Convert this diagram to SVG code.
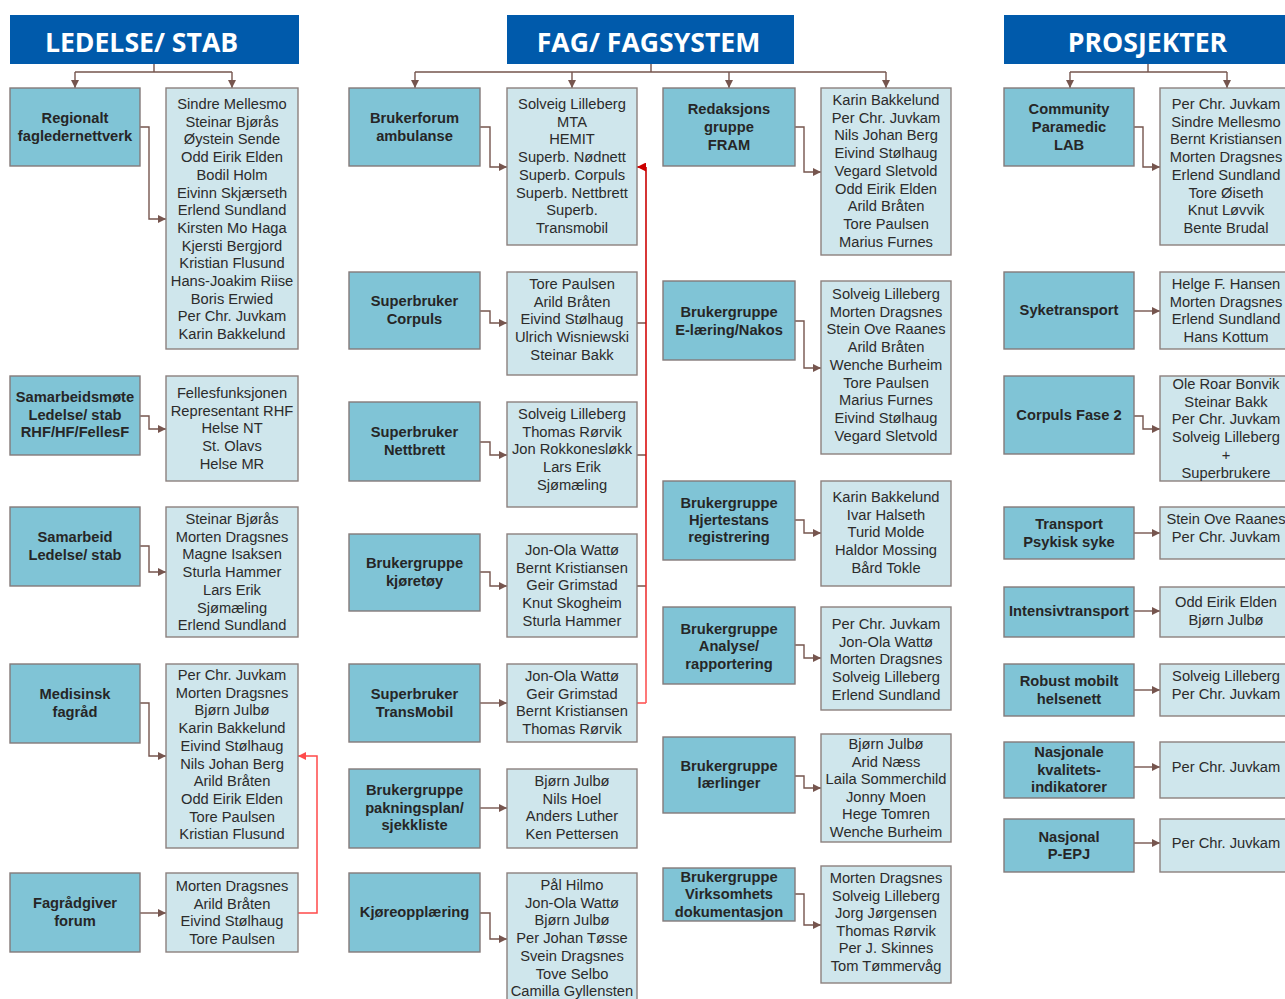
<svg xmlns="http://www.w3.org/2000/svg" width="1285" height="999" viewBox="0 0 1285 999">
<style>
.hdr{fill:#005aab}
.ht{font-family:"Open Sans","DejaVu Sans",sans-serif;font-weight:700;font-size:26.6px;fill:#fff;text-anchor:middle}
.dk{fill:#80c4d6;stroke:#847a79;stroke-width:1.4}
.lt{fill:#cfe6ec;stroke:#8c807e;stroke-width:1.4}
.lb{font-family:"Liberation Sans",Arial,sans-serif;font-weight:700;font-size:14.7px;fill:#262626;text-anchor:middle}
.nm{font-family:"Liberation Sans",Arial,sans-serif;font-size:14.7px;fill:#2b2b2b;text-anchor:middle}
.c{fill:none;stroke:#76554e;stroke-width:1.4}
.ca{fill:none;stroke:#76554e;stroke-width:1.4;marker-end:url(#ab)}
.r{fill:none;stroke:url(#rg);stroke-width:1.6}
.r2{fill:none;stroke:#ff4a4a;stroke-width:1.5}
</style>
<defs>
<marker id="ab" viewBox="0 0 8 8" refX="8" refY="4" markerWidth="8" markerHeight="8" markerUnits="userSpaceOnUse" orient="auto"><path d="M0,0 L8,4 L0,8 z" fill="#76554e"/></marker>
<marker id="ar" viewBox="0 0 8 8" refX="8" refY="4" markerWidth="9" markerHeight="9" markerUnits="userSpaceOnUse" orient="auto"><path d="M0,0 L8,4 L0,8 z" fill="#cc0000"/></marker>
<marker id="ar2" viewBox="0 0 8 8" refX="8" refY="4" markerWidth="8" markerHeight="8" markerUnits="userSpaceOnUse" orient="auto"><path d="M0,0 L8,4 L0,8 z" fill="#ff4a4a"/></marker>
<linearGradient id="rg" gradientUnits="userSpaceOnUse" x1="0" y1="167" x2="0" y2="703"><stop offset="0" stop-color="#c80000"/><stop offset="0.6" stop-color="#dd1010"/><stop offset="1" stop-color="#ff5a5a"/></linearGradient>
</defs>

<g id="headers">
<g id="h-ledelse"><rect class="hdr" x="10" y="15" width="289" height="49"/><text class="ht" x="141.5" y="52">LEDELSE/ STAB</text></g>
<g id="h-fag"><rect class="hdr" x="507" y="15" width="287" height="49"/><text class="ht" x="648.5" y="52">FAG/ FAGSYSTEM</text></g>
<g id="h-prosjekter"><rect class="hdr" x="1004" y="15" width="290" height="49"/><text class="ht" x="1147.5" y="52">PROSJEKTER</text></g>
</g>

<g id="connectors">
<path class="c" d="M154,64 V72 M75,72 H232"/>
<path class="ca" d="M75,72 V88"/><path class="ca" d="M232,72 V88"/>
<path class="c" d="M651,64 V72 M415,72 H886"/>
<path class="ca" d="M415,72 V88"/><path class="ca" d="M572,72 V88"/><path class="ca" d="M729,72 V88"/><path class="ca" d="M886,72 V88"/>
<path class="c" d="M1148,64 V72 M1070,72 H1227"/>
<path class="ca" d="M1070,72 V88"/><path class="ca" d="M1227,72 V88"/>

<path class="ca" d="M140,127 H149 V219 H166"/>
<path class="ca" d="M140,416 H149 V429 H166"/>
<path class="ca" d="M140,546 H149 V572 H166"/>
<path class="ca" d="M140,703 H149 V756 H166"/>
<path class="ca" d="M140,913 H166"/>
<path class="r2" d="M298,913 H317 V756 H298" marker-end="url(#ar2)"/>

<path class="ca" d="M480,127 H490 V167 H507"/>
<path class="ca" d="M480,311 H490 V323 H507"/>
<path class="ca" d="M480,442 H490 V455 H507"/>
<path class="ca" d="M480,572 H490 V586 H507"/>
<path class="ca" d="M480,703 H507"/>
<path class="ca" d="M480,808 H507"/>
<path class="ca" d="M480,913 H490 V939 H507"/>
<path class="c" d="M637,323 H646 M637,455 H646 M637,586 H646"/>
<path class="r2" d="M637,703 H646"/>
<path class="r" d="M646,703 V167"/>
<path fill="none" stroke="#c80000" stroke-width="1.6" d="M646,167 H637" marker-end="url(#ar)"/>

<path class="ca" d="M795,127 H804 V172 H821"/>
<path class="ca" d="M795,321 H804 V368 H821"/>
<path class="ca" d="M795,520 H804 V533 H821"/>
<path class="ca" d="M795,645 H804 V658 H821"/>
<path class="ca" d="M795,776 H804 V788 H821"/>
<path class="ca" d="M795,894 H804 V925 H821"/>

<path class="ca" d="M1134,127 H1143 V167 H1160"/>
<path class="ca" d="M1134,311 H1160"/>
<path class="ca" d="M1134,416 H1143 V429 H1160"/>
<path class="ca" d="M1134,533 H1160"/>
<path class="ca" d="M1134,611 H1160"/>
<path class="ca" d="M1134,690 H1160"/>
<path class="ca" d="M1134,767 H1160"/>
<path class="ca" d="M1134,843 H1160"/>
</g>

<!-- LEDELSE / STAB -->
<g id="n-regionalt"><rect class="dk" x="10" y="88" width="130" height="78"/><text class="lb" x="75" y="123">Regionalt</text><text class="lb" x="75" y="141">fagledernettverk</text></g>
<g id="m-regionalt"><rect class="lt" x="166" y="88" width="132" height="261"/><text class="nm" x="232" y="109"><tspan x="232">Sindre Mellesmo</tspan><tspan x="232" dy="17.7">Steinar Bjørås</tspan><tspan x="232" dy="17.7">Øystein Sende</tspan><tspan x="232" dy="17.7">Odd Eirik Elden</tspan><tspan x="232" dy="17.7">Bodil Holm</tspan><tspan x="232" dy="17.7">Eivinn Skjærseth</tspan><tspan x="232" dy="17.7">Erlend Sundland</tspan><tspan x="232" dy="17.7">Kirsten Mo Haga</tspan><tspan x="232" dy="17.7">Kjersti Bergjord</tspan><tspan x="232" dy="17.7">Kristian Flusund</tspan><tspan x="232" dy="17.7">Hans-Joakim Riise</tspan><tspan x="232" dy="17.7">Boris Erwied</tspan><tspan x="232" dy="17.7">Per Chr. Juvkam</tspan><tspan x="232" dy="17.7">Karin Bakkelund</tspan></text></g>

<g id="n-samarbeidsmote"><rect class="dk" x="10" y="376" width="130" height="79"/><text class="lb" x="75" y="402">Samarbeidsmøte</text><text class="lb" x="75" y="420">Ledelse/ stab</text><text class="lb" x="75" y="437">RHF/HF/FellesF</text></g>
<g id="m-samarbeidsmote"><rect class="lt" x="166" y="376" width="132" height="105"/><text class="nm" x="232" y="398"><tspan x="232">Fellesfunksjonen</tspan><tspan x="232" dy="17.7">Representant RHF</tspan><tspan x="232" dy="17.7">Helse NT</tspan><tspan x="232" dy="17.7">St. Olavs</tspan><tspan x="232" dy="17.7">Helse MR</tspan></text></g>

<g id="n-samarbeid"><rect class="dk" x="10" y="507" width="130" height="79"/><text class="lb" x="75" y="542">Samarbeid</text><text class="lb" x="75" y="560">Ledelse/ stab</text></g>
<g id="m-samarbeid"><rect class="lt" x="166" y="507" width="132" height="130"/><text class="nm" x="232" y="524"><tspan x="232">Steinar Bjørås</tspan><tspan x="232" dy="17.7">Morten Dragsnes</tspan><tspan x="232" dy="17.7">Magne Isaksen</tspan><tspan x="232" dy="17.7">Sturla Hammer</tspan><tspan x="232" dy="17.7">Lars Erik</tspan><tspan x="232" dy="17.7">Sjømæling</tspan><tspan x="232" dy="17.7">Erlend Sundland</tspan></text></g>

<g id="n-medisinsk"><rect class="dk" x="10" y="664" width="130" height="79"/><text class="lb" x="75" y="699">Medisinsk</text><text class="lb" x="75" y="717">fagråd</text></g>
<g id="m-medisinsk"><rect class="lt" x="166" y="664" width="132" height="184"/><text class="nm" x="232" y="680"><tspan x="232">Per Chr. Juvkam</tspan><tspan x="232" dy="17.7">Morten Dragsnes</tspan><tspan x="232" dy="17.7">Bjørn Julbø</tspan><tspan x="232" dy="17.7">Karin Bakkelund</tspan><tspan x="232" dy="17.7">Eivind Stølhaug</tspan><tspan x="232" dy="17.7">Nils Johan Berg</tspan><tspan x="232" dy="17.7">Arild Bråten</tspan><tspan x="232" dy="17.7">Odd Eirik Elden</tspan><tspan x="232" dy="17.7">Tore Paulsen</tspan><tspan x="232" dy="17.7">Kristian Flusund</tspan></text></g>

<g id="n-fagradgiver"><rect class="dk" x="10" y="873" width="130" height="79"/><text class="lb" x="75" y="908">Fagrådgiver</text><text class="lb" x="75" y="926">forum</text></g>
<g id="m-fagradgiver"><rect class="lt" x="166" y="873" width="132" height="79"/><text class="nm" x="232" y="891"><tspan x="232">Morten Dragsnes</tspan><tspan x="232" dy="17.7">Arild Bråten</tspan><tspan x="232" dy="17.7">Eivind Stølhaug</tspan><tspan x="232" dy="17.7">Tore Paulsen</tspan></text></g>

<!-- FAG column 2 -->
<g id="n-brukerforum"><rect class="dk" x="349" y="88" width="131" height="78"/><text class="lb" x="414.5" y="123">Brukerforum</text><text class="lb" x="414.5" y="141">ambulanse</text></g>
<g id="m-brukerforum"><rect class="lt" x="507" y="88" width="130" height="157"/><text class="nm" x="572" y="109"><tspan x="572">Solveig Lilleberg</tspan><tspan x="572" dy="17.7">MTA</tspan><tspan x="572" dy="17.7">HEMIT</tspan><tspan x="572" dy="17.7">Superb. Nødnett</tspan><tspan x="572" dy="17.7">Superb. Corpuls</tspan><tspan x="572" dy="17.7">Superb. Nettbrett</tspan><tspan x="572" dy="17.7">Superb.</tspan><tspan x="572" dy="17.7">Transmobil</tspan></text></g>

<g id="n-sb-corpuls"><rect class="dk" x="349" y="272" width="131" height="77"/><text class="lb" x="414.5" y="306">Superbruker</text><text class="lb" x="414.5" y="324">Corpuls</text></g>
<g id="m-sb-corpuls"><rect class="lt" x="507" y="272" width="130" height="103"/><text class="nm" x="572" y="289"><tspan x="572">Tore Paulsen</tspan><tspan x="572" dy="17.7">Arild Bråten</tspan><tspan x="572" dy="17.7">Eivind Stølhaug</tspan><tspan x="572" dy="17.7">Ulrich Wisniewski</tspan><tspan x="572" dy="17.7">Steinar Bakk</tspan></text></g>

<g id="n-sb-nettbrett"><rect class="dk" x="349" y="402" width="131" height="79"/><text class="lb" x="414.5" y="437">Superbruker</text><text class="lb" x="414.5" y="455">Nettbrett</text></g>
<g id="m-sb-nettbrett"><rect class="lt" x="507" y="402" width="130" height="105"/><text class="nm" x="572" y="419"><tspan x="572">Solveig Lilleberg</tspan><tspan x="572" dy="17.7">Thomas Rørvik</tspan><tspan x="572" dy="17.7">Jon Rokkonesløkk</tspan><tspan x="572" dy="17.7">Lars Erik</tspan><tspan x="572" dy="17.7">Sjømæling</tspan></text></g>

<g id="n-bg-kjoretoy"><rect class="dk" x="349" y="534" width="131" height="77"/><text class="lb" x="414.5" y="568">Brukergruppe</text><text class="lb" x="414.5" y="586">kjøretøy</text></g>
<g id="m-bg-kjoretoy"><rect class="lt" x="507" y="534" width="130" height="103"/><text class="nm" x="572" y="555"><tspan x="572">Jon-Ola Wattø</tspan><tspan x="572" dy="17.7">Bernt Kristiansen</tspan><tspan x="572" dy="17.7">Geir Grimstad</tspan><tspan x="572" dy="17.7">Knut Skogheim</tspan><tspan x="572" dy="17.7">Sturla Hammer</tspan></text></g>

<g id="n-sb-transmobil"><rect class="dk" x="349" y="664" width="131" height="78"/><text class="lb" x="414.5" y="699">Superbruker</text><text class="lb" x="414.5" y="717">TransMobil</text></g>
<g id="m-sb-transmobil"><rect class="lt" x="507" y="664" width="130" height="78"/><text class="nm" x="572" y="681"><tspan x="572">Jon-Ola Wattø</tspan><tspan x="572" dy="17.7">Geir Grimstad</tspan><tspan x="572" dy="17.7">Bernt Kristiansen</tspan><tspan x="572" dy="17.7">Thomas Rørvik</tspan></text></g>

<g id="n-bg-pakning"><rect class="dk" x="349" y="769" width="131" height="79"/><text class="lb" x="414.5" y="795">Brukergruppe</text><text class="lb" x="414.5" y="813">pakningsplan/</text><text class="lb" x="414.5" y="830">sjekkliste</text></g>
<g id="m-bg-pakning"><rect class="lt" x="507" y="769" width="130" height="79"/><text class="nm" x="572" y="786"><tspan x="572">Bjørn Julbø</tspan><tspan x="572" dy="17.7">Nils Hoel</tspan><tspan x="572" dy="17.7">Anders Luther</tspan><tspan x="572" dy="17.7">Ken Pettersen</tspan></text></g>

<g id="n-kjoreopplaering"><rect class="dk" x="349" y="873" width="131" height="79"/><text class="lb" x="414.5" y="917">Kjøreopplæring</text></g>
<g id="m-kjoreopplaering"><rect class="lt" x="507" y="873" width="130" height="140"/><text class="nm" x="572" y="890"><tspan x="572">Pål Hilmo</tspan><tspan x="572" dy="17.7">Jon-Ola Wattø</tspan><tspan x="572" dy="17.7">Bjørn Julbø</tspan><tspan x="572" dy="17.7">Per Johan Tøsse</tspan><tspan x="572" dy="17.7">Svein Dragsnes</tspan><tspan x="572" dy="17.7">Tove Selbo</tspan><tspan x="572" dy="17.7">Camilla Gyllensten</tspan></text></g>

<!-- FAG column 3 -->
<g id="n-redaksjon"><rect class="dk" x="663" y="88" width="132" height="78"/><text class="lb" x="729" y="114">Redaksjons</text><text class="lb" x="729" y="132">gruppe</text><text class="lb" x="729" y="150">FRAM</text></g>
<g id="m-redaksjon"><rect class="lt" x="821" y="88" width="130" height="167"/><text class="nm" x="886" y="105"><tspan x="886">Karin Bakkelund</tspan><tspan x="886" dy="17.7">Per Chr. Juvkam</tspan><tspan x="886" dy="17.7">Nils Johan Berg</tspan><tspan x="886" dy="17.7">Eivind Stølhaug</tspan><tspan x="886" dy="17.7">Vegard Sletvold</tspan><tspan x="886" dy="17.7">Odd Eirik Elden</tspan><tspan x="886" dy="17.7">Arild Bråten</tspan><tspan x="886" dy="17.7">Tore Paulsen</tspan><tspan x="886" dy="17.7">Marius Furnes</tspan></text></g>

<g id="n-elaering"><rect class="dk" x="663" y="281" width="132" height="79"/><text class="lb" x="729" y="317">Brukergruppe</text><text class="lb" x="729" y="335">E-læring/Nakos</text></g>
<g id="m-elaering"><rect class="lt" x="821" y="281" width="130" height="173"/><text class="nm" x="886" y="299"><tspan x="886">Solveig Lilleberg</tspan><tspan x="886" dy="17.7">Morten Dragsnes</tspan><tspan x="886" dy="17.7">Stein Ove Raanes</tspan><tspan x="886" dy="17.7">Arild Bråten</tspan><tspan x="886" dy="17.7">Wenche Burheim</tspan><tspan x="886" dy="17.7">Tore Paulsen</tspan><tspan x="886" dy="17.7">Marius Furnes</tspan><tspan x="886" dy="17.7">Eivind Stølhaug</tspan><tspan x="886" dy="17.7">Vegard Sletvold</tspan></text></g>

<g id="n-hjertestans"><rect class="dk" x="663" y="481" width="132" height="79"/><text class="lb" x="729" y="508">Brukergruppe</text><text class="lb" x="729" y="525">Hjertestans</text><text class="lb" x="729" y="542">registrering</text></g>
<g id="m-hjertestans"><rect class="lt" x="821" y="481" width="130" height="105"/><text class="nm" x="886" y="502"><tspan x="886">Karin Bakkelund</tspan><tspan x="886" dy="17.7">Ivar Halseth</tspan><tspan x="886" dy="17.7">Turid Molde</tspan><tspan x="886" dy="17.7">Haldor Mossing</tspan><tspan x="886" dy="17.7">Bård Tokle</tspan></text></g>

<g id="n-analyse"><rect class="dk" x="663" y="607" width="132" height="77"/><text class="lb" x="729" y="634">Brukergruppe</text><text class="lb" x="729" y="651">Analyse/</text><text class="lb" x="729" y="669">rapportering</text></g>
<g id="m-analyse"><rect class="lt" x="821" y="607" width="130" height="103"/><text class="nm" x="886" y="629"><tspan x="886">Per Chr. Juvkam</tspan><tspan x="886" dy="17.7">Jon-Ola Wattø</tspan><tspan x="886" dy="17.7">Morten Dragsnes</tspan><tspan x="886" dy="17.7">Solveig Lilleberg</tspan><tspan x="886" dy="17.7">Erlend Sundland</tspan></text></g>

<g id="n-laerlinger"><rect class="dk" x="663" y="737" width="132" height="76"/><text class="lb" x="729" y="771">Brukergruppe</text><text class="lb" x="729" y="788">lærlinger</text></g>
<g id="m-laerlinger"><rect class="lt" x="821" y="734" width="130" height="108"/><text class="nm" x="886" y="749"><tspan x="886">Bjørn Julbø</tspan><tspan x="886" dy="17.6">Arid Næss</tspan><tspan x="886" dy="17.6">Laila Sommerchild</tspan><tspan x="886" dy="17.6">Jonny Moen</tspan><tspan x="886" dy="17.6">Hege Tomren</tspan><tspan x="886" dy="17.6">Wenche Burheim</tspan></text></g>

<g id="n-virksomhet"><rect class="dk" x="663" y="868" width="132" height="53"/><text class="lb" x="729" y="882">Brukergruppe</text><text class="lb" x="729" y="899">Virksomhets</text><text class="lb" x="729" y="917">dokumentasjon</text></g>
<g id="m-virksomhet"><rect class="lt" x="821" y="866" width="130" height="117"/><text class="nm" x="886" y="883"><tspan x="886">Morten Dragsnes</tspan><tspan x="886" dy="17.6">Solveig Lilleberg</tspan><tspan x="886" dy="17.6">Jorg Jørgensen</tspan><tspan x="886" dy="17.6">Thomas Rørvik</tspan><tspan x="886" dy="17.6">Per J. Skinnes</tspan><tspan x="886" dy="17.6">Tom Tømmervåg</tspan></text></g>

<!-- PROSJEKTER -->
<g id="n-community"><rect class="dk" x="1004" y="88" width="130" height="78"/><text class="lb" x="1069" y="114">Community</text><text class="lb" x="1069" y="132">Paramedic</text><text class="lb" x="1069" y="150">LAB</text></g>
<g id="m-community"><rect class="lt" x="1160" y="88" width="132" height="157"/><text class="nm" x="1226" y="109"><tspan x="1226">Per Chr. Juvkam</tspan><tspan x="1226" dy="17.7">Sindre Mellesmo</tspan><tspan x="1226" dy="17.7">Bernt Kristiansen</tspan><tspan x="1226" dy="17.7">Morten Dragsnes</tspan><tspan x="1226" dy="17.7">Erlend Sundland</tspan><tspan x="1226" dy="17.7">Tore Øiseth</tspan><tspan x="1226" dy="17.7">Knut Løvvik</tspan><tspan x="1226" dy="17.7">Bente Brudal</tspan></text></g>

<g id="n-syketransport"><rect class="dk" x="1004" y="272" width="130" height="77"/><text class="lb" x="1069" y="315">Syketransport</text></g>
<g id="m-syketransport"><rect class="lt" x="1160" y="272" width="132" height="77"/><text class="nm" x="1226" y="289"><tspan x="1226">Helge F. Hansen</tspan><tspan x="1226" dy="17.7">Morten Dragsnes</tspan><tspan x="1226" dy="17.7">Erlend Sundland</tspan><tspan x="1226" dy="17.7">Hans Kottum</tspan></text></g>

<g id="n-corpuls2"><rect class="dk" x="1004" y="376" width="130" height="78"/><text class="lb" x="1069" y="420">Corpuls Fase 2</text></g>
<g id="m-corpuls2"><rect class="lt" x="1160" y="376" width="132" height="105"/><text class="nm" x="1226" y="389"><tspan x="1226">Ole Roar Bonvik</tspan><tspan x="1226" dy="17.7">Steinar Bakk</tspan><tspan x="1226" dy="17.7">Per Chr. Juvkam</tspan><tspan x="1226" dy="17.7">Solveig Lilleberg</tspan><tspan x="1226" dy="17.7">+</tspan><tspan x="1226" dy="17.7">Superbrukere</tspan></text></g>

<g id="n-psykisk"><rect class="dk" x="1004" y="507" width="130" height="52"/><text class="lb" x="1069" y="529">Transport</text><text class="lb" x="1069" y="547">Psykisk syke</text></g>
<g id="m-psykisk"><rect class="lt" x="1160" y="507" width="132" height="52"/><text class="nm" x="1226" y="524"><tspan x="1226">Stein Ove Raanes</tspan><tspan x="1226" dy="17.7">Per Chr. Juvkam</tspan></text></g>

<g id="n-intensiv"><rect class="dk" x="1004" y="587" width="130" height="50"/><text class="lb" x="1069" y="616">Intensivtransport</text></g>
<g id="m-intensiv"><rect class="lt" x="1160" y="587" width="132" height="50"/><text class="nm" x="1226" y="607"><tspan x="1226">Odd Eirik Elden</tspan><tspan x="1226" dy="17.7">Bjørn Julbø</tspan></text></g>

<g id="n-robust"><rect class="dk" x="1004" y="664" width="130" height="52"/><text class="lb" x="1069" y="686">Robust mobilt</text><text class="lb" x="1069" y="704">helsenett</text></g>
<g id="m-robust"><rect class="lt" x="1160" y="664" width="132" height="52"/><text class="nm" x="1226" y="681"><tspan x="1226">Solveig Lilleberg</tspan><tspan x="1226" dy="17.7">Per Chr. Juvkam</tspan></text></g>

<g id="n-nasjonale"><rect class="dk" x="1004" y="742" width="130" height="56"/><text class="lb" x="1069" y="757">Nasjonale</text><text class="lb" x="1069" y="775">kvalitets-</text><text class="lb" x="1069" y="792">indikatorer</text></g>
<g id="m-nasjonale"><rect class="lt" x="1160" y="742" width="132" height="56"/><text class="nm" x="1226" y="772">Per Chr. Juvkam</text></g>

<g id="n-pepj"><rect class="dk" x="1004" y="819" width="130" height="53"/><text class="lb" x="1069" y="842">Nasjonal</text><text class="lb" x="1069" y="859">P-EPJ</text></g>
<g id="m-pepj"><rect class="lt" x="1160" y="819" width="132" height="53"/><text class="nm" x="1226" y="848">Per Chr. Juvkam</text></g>
</svg>
